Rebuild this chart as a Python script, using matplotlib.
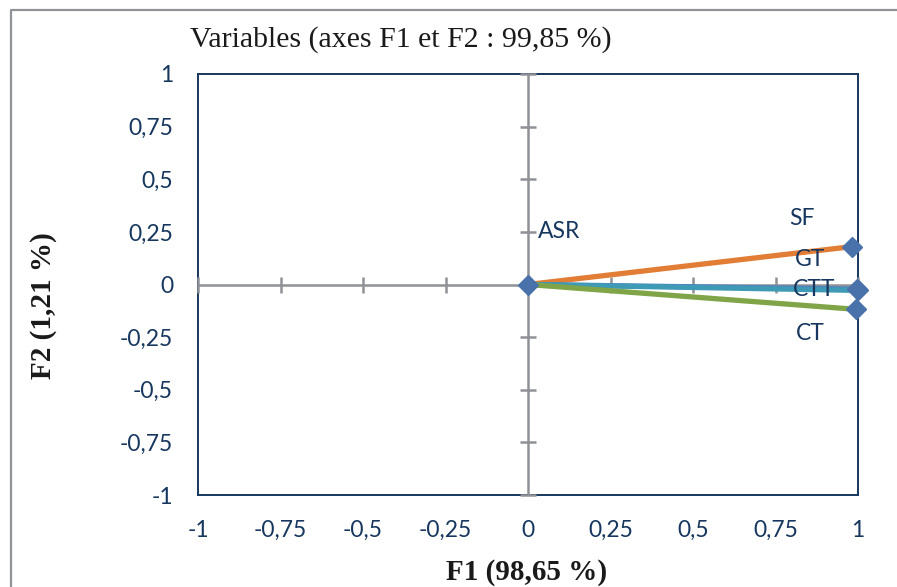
import matplotlib
matplotlib.use("Agg")
import matplotlib.pyplot as plt
from matplotlib.lines import Line2D

# Variable coordinates on the first two factorial axes
variables = ["ASR", "SF", "GT", "CTT", "CT"]
f1 = [0.000, 0.982, 0.998, 0.999, 0.994]
f2 = [0.000, 0.180, -0.022, -0.028, -0.118]
line_colors = [None, "#E27D35", "#4F7FBE", "#3F9AB6", "#7FA548"]

# Where each variable name is written
label_x = [0.093, 0.83, 0.856, 0.866, 0.854]
label_y = [0.254, 0.313, 0.121, -0.024, -0.235]

ticks = [-1, -0.75, -0.5, -0.25, 0, 0.25, 0.5, 0.75, 1]
tick_labels = ["-1", "-0,75", "-0,5", "-0,25", "0", "0,25", "0,5", "0,75", "1"]

title = "Variables (axes F1 et F2 : 99,85 %)"
xlabel = "F1 (98,65 %)"
ylabel = "F2 (1,21 %)"

navy = "#17375E"
axis_gray = "#8E9196"
marker_blue = "#4A72AA"
sans = ["Lato", "DejaVu Sans"]
serif = ["Liberation Serif", "DejaVu Serif"]

fig = plt.figure(figsize=(8.97, 5.87), dpi=100)
fig.patch.set_facecolor("white")

W, H = 897, 587
ax = fig.add_axes([198 / W, 1 - 495 / H, 660 / W, 421 / H])
ax.set_xlim(-1, 1)
ax.set_ylim(-1, 1)

# Plot frame
for sp in ax.spines.values():
    sp.set_color(navy)
    sp.set_linewidth(1.4)
    sp.set_zorder(0.5)

# Zero axes with cross-shaped tick marks
ax.axhline(0, color=axis_gray, lw=1.8, zorder=1)
ax.axvline(0, color=axis_gray, lw=1.8, zorder=1)
ax.plot(ticks, [0] * len(ticks), ls="none", marker="|", ms=12,
        mew=1.8, color=axis_gray, zorder=1, clip_on=False)
ax.plot([0] * len(ticks), ticks, ls="none", marker="_", ms=12,
        mew=1.8, color=axis_gray, zorder=1, clip_on=False)

# Vectors from the origin to each variable
for name, x, y, c in zip(variables, f1, f2, line_colors):
    if c is not None:
        ax.plot([0, x], [0, y], color=c, lw=3.8, solid_capstyle="butt",
                zorder=3)
ax.plot(f1, f2, ls="none", marker="D", ms=10.5, color=marker_blue,
        zorder=4, clip_on=False)

for name, x, y in zip(variables, label_x, label_y):
    ax.text(x, y, name, ha="center", va="center", fontsize=16.5,
            color=navy, family=sans, zorder=5)

ax.set_xticks(ticks)
ax.set_xticklabels(tick_labels)
ax.set_yticks(ticks)
ax.set_yticklabels(tick_labels)
ax.tick_params(axis="both", length=0, labelsize=16.5, labelcolor=navy)
ax.tick_params(axis="x", pad=18)
ax.tick_params(axis="y", pad=18)
for lab in ax.get_xticklabels() + ax.get_yticklabels():
    lab.set_family(sans)

fig.text(401 / W, 1 - 47 / H, title, ha="center", va="baseline",
         fontsize=21.5, family=serif, color="#1A1A1A")
fig.text(527 / W, 1 - 573 / H, xlabel, ha="center", va="center",
         fontsize=21, fontweight="bold", family=serif, color="#1A1A1A")
fig.text(44 / W, 1 - 306 / H, ylabel, ha="center", va="center",
         rotation=90, fontsize=21, fontweight="bold", family=serif,
         color="#1A1A1A")

# Outer chart border (top and left edges)
fig.add_artist(Line2D([11 / W, 11 / W, 1], [0, 1 - 9.5 / H, 1 - 9.5 / H],
                      transform=fig.transFigure, color="#909297", lw=1.6))

fig.savefig("out.png", dpi=100)
